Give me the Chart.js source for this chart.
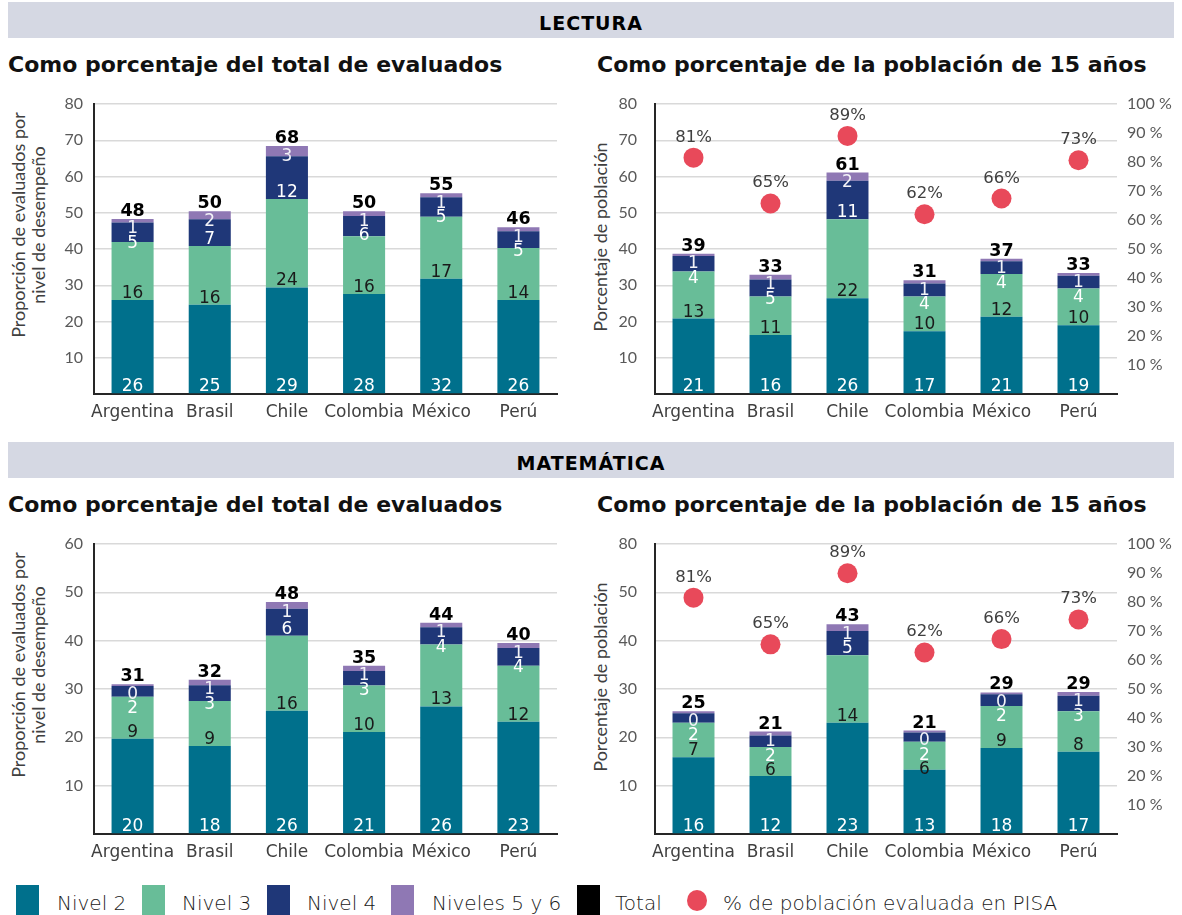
<!DOCTYPE html>
<html>
<head>
<meta charset="utf-8">
<script src="https://cdn.jsdelivr.net/npm/chart.js@4/dist/chart.umd.min.js"></script>
<style>
  body { margin: 0; width: 1182px; height: 915px; background: #fff; position: relative; overflow: hidden; font-family: "DejaVu Sans", sans-serif; }
  .band { position: absolute; left: 8px; width: 1166px; height: 36px; background: #d5d8e3; }
  .head { position: absolute; left: 8px; width: 1166px; text-align: center; font: bold 19px/1 "DejaVu Sans"; letter-spacing: 1px; color: #000; }
  .ttl { position: absolute; font: bold 22px/1 "DejaVu Sans"; color: #111; white-space: nowrap; }
  canvas { position: absolute; }
  .ytitle { position: absolute; font: 18px/20px Lato, sans-serif; color: #404040; text-align: center; white-space: nowrap; transform: rotate(-90deg); }
  .sw { position: absolute; top: 885px; width: 23px; height: 30px; }
  .lt { position: absolute; top: 893px; font: 300 20px/1 "DejaVu Sans"; color: #1a1a1a; white-space: nowrap; }
  .dot { position: absolute; left: 687px; top: 890px; width: 20px; height: 21px; border-radius: 50%; background: #e8495a; }
</style>
</head>
<body>
<div class="band" style="top:2px"></div>
<div class="head" style="top:14px">LECTURA</div>
<div class="ttl" style="left:8px;top:54px">Como porcentaje del total de evaluados</div>
<div class="ttl" style="left:597px;top:54px">Como porcentaje de la población de 15 años</div>
<div class="ytitle" style="left:-102px;top:205px;width:260px;height:40px">Proporción de evaluados por<br>nivel de desempeño</div>
<div class="ytitle" style="left:470px;top:227px;width:260px;height:20px">Porcentaje de población</div>
<canvas id="lecTot" width="590" height="345" style="left:0;top:90px"></canvas>
<canvas id="lecPop" width="592" height="345" style="left:590px;top:90px"></canvas>

<div class="band" style="top:442px"></div>
<div class="head" style="top:454px">MATEMÁTICA</div>
<div class="ttl" style="left:8px;top:494px">Como porcentaje del total de evaluados</div>
<div class="ttl" style="left:597px;top:494px">Como porcentaje de la población de 15 años</div>
<div class="ytitle" style="left:-102px;top:645px;width:260px;height:40px">Proporción de evaluados por<br>nivel de desempeño</div>
<div class="ytitle" style="left:470px;top:667px;width:260px;height:20px">Porcentaje de población</div>
<canvas id="matTot" width="590" height="345" style="left:0;top:530px"></canvas>
<canvas id="matPop" width="592" height="345" style="left:590px;top:530px"></canvas>

<div class="sw" style="left:16px;background:#00708c"></div><div class="lt" style="left:57px">Nivel 2</div>
<div class="sw" style="left:142px;background:#68bd98"></div><div class="lt" style="left:182px">Nivel 3</div>
<div class="sw" style="left:267px;background:#1f3778"></div><div class="lt" style="left:307px">Nivel 4</div>
<div class="sw" style="left:391px;background:#8f78b4"></div><div class="lt" style="left:432px">Niveles 5 y 6</div>
<div class="sw" style="left:577px;background:#000"></div><div class="lt" style="left:615px">Total</div>
<div class="dot"></div><div class="lt" style="left:723px">% de población evaluada en PISA</div>

<script>
const countries = ['Argentina', 'Brasil', 'Chile', 'Colombia', 'México', 'Perú'];

// Lectura, % del total de evaluados
const lecTotN2 = [25.9, 24.6, 29.4, 27.6, 31.8, 25.9];
const lecTotN3 = [16.0, 16.2, 24.4, 15.9, 17.1, 14.4];
const lecTotN4 = [5.4, 7.4, 11.8, 5.6, 5.4, 4.6];
const lecTotN5 = [1.0, 2.2, 2.8, 1.3, 1.1, 1.1];
const lecTotTotal = [48, 50, 68, 50, 55, 46];

// Lectura, % de la población de 15 años
const lecPopN2 = [20.8, 16.3, 26.4, 17.3, 21.3, 19.0];
const lecPopN3 = [13.0, 10.6, 21.8, 9.6, 11.8, 10.1];
const lecPopN4 = [4.3, 4.7, 10.6, 3.6, 3.5, 3.5];
const lecPopN5 = [0.6, 1.3, 2.3, 0.9, 0.7, 0.8];
const lecPopTotal = [39, 33, 61, 31, 37, 33];
const lecPisa = [81.5, 65.7, 89.0, 62.0, 67.4, 80.6];
const lecPisaLabels = [81, 65, 89, 62, 66, 73];

// Matemática, % del total de evaluados
const matTotN2 = [19.7, 18.2, 25.5, 21.1, 26.4, 23.2];
const matTotN3 = [8.7, 9.3, 15.5, 9.6, 12.8, 11.6];
const matTotN4 = [2.2, 3.3, 5.6, 3.0, 3.6, 3.7];
const matTotN5 = [0.4, 1.1, 1.4, 1.1, 0.9, 1.0];
const matTotTotal = [31, 32, 48, 35, 44, 40];

// Matemática, % de la población de 15 años
const matPopN2 = [15.9, 12.0, 23.0, 13.3, 17.8, 17.0];
const matPopN3 = [7.1, 6.0, 14.0, 5.8, 8.7, 8.4];
const matPopN4 = [2.0, 2.4, 5.0, 1.9, 2.4, 3.2];
const matPopN5 = [0.4, 0.8, 1.4, 0.4, 0.4, 0.8];
const matPopTotal = [25, 21, 43, 21, 29, 29];
const matPisa = [81.5, 65.4, 89.9, 62.6, 67.2, 74.0];
const matPisaLabels = [81, 65, 89, 62, 66, 73];

// tick labels (the last chart's top tick reads 80 in the original)
const ticks80 = ['', '10', '20', '30', '40', '50', '60', '70', '80'];
const ticks60 = ['', '10', '20', '30', '40', '50', '60'];
const ticksMatPop = ['', '10', '20', '30', '40', '50', '80'];

const colors = ['#00708c', '#68bd98', '#1f3778', '#8f78b4'];
const labelColors = ['#ffffff', '#1a1a1a', '#ffffff', '#f2f2f7'];
const names = ['Nivel 2', 'Nivel 3', 'Nivel 4', 'Niveles 5 y 6'];

// no extra room for overhanging tick labels, so the plot area sits where we put it
function noPad(s) { s.paddingTop = 0; s.paddingBottom = 0; s.paddingLeft = 0; s.paddingRight = 0; }

function makeChart(id, levels, totals, yMax, yTicks, opt) {
  const ctx = document.getElementById(id).getContext('2d');
  const datasets = levels.map((d, k) => ({
    label: names[k], data: d, backgroundColor: colors[k], borderWidth: 0,
    barPercentage: 0.545, categoryPercentage: 1, stack: 's', order: 2
  }));
  if (opt.pisa) {
    datasets.push({
      type: 'line', label: '% de población evaluada en PISA', data: opt.pisa,
      yAxisID: 'y2', showLine: false, pointRadius: 10, pointHoverRadius: 10,
      pointBackgroundColor: '#e8495a', pointBorderWidth: 0, order: 1
    });
  }

  const labelPlugin = {
    id: 'labels_' + id,
    afterDatasetsDraw(chart) {
      const c = chart.ctx;
      const H = 12.5, GAP = 2;
      c.save();
      c.textAlign = 'center';
      c.textBaseline = 'alphabetic';
      for (let i = 0; i < countries.length; i++) {
        let prevBottom = -Infinity;
        c.font = '17px "DejaVu Sans"';
        // from the top segment down, push labels below the one above
        for (let d = 3; d >= 0; d--) {
          const el = chart.getDatasetMeta(d).data[i];
          const top = Math.min(el.y, el.base), base = Math.max(el.y, el.base);
          let t = base - 2 - H;
          if (t < top + 2) t = top + 2;
          if (t < prevBottom + GAP) t = prevBottom + GAP;
          const b = t + H;
          c.fillStyle = labelColors[d];
          c.fillText(String(Math.round(levels[d][i])), el.x, b);
          prevBottom = b;
        }
        const topEl = chart.getDatasetMeta(3).data[i];
        c.font = 'bold 17.5px "DejaVu Sans"';
        c.fillStyle = '#000';
        c.fillText(String(totals[i]), topEl.x, topEl.y - 3);
      }
      if (opt.pisa) {
        const meta = chart.getDatasetMeta(4);
        c.font = '16.5px "DejaVu Sans"';
        c.fillStyle = '#404040';
        meta.data.forEach((pt, i) => {
          c.fillText(opt.pisaLabels[i] + '%', pt.x, pt.y - 16);
        });
      }
      c.restore();
    }
  };

  const scales = {
    x: {
      stacked: true,
      grid: { display: false, drawTicks: false },
      border: { display: true, color: '#262626', width: 2 },
      ticks: { font: { family: 'DejaVu Sans', size: 17 }, color: '#404040', padding: 8, autoSkip: false, maxRotation: 0 },
      afterFit: s => { noPad(s); s.height = 41; }
    },
    y: {
      stacked: true, min: 0, max: yMax,
      grid: { color: '#d9d9d9', lineWidth: 1.5, drawTicks: false },
      border: { display: true, color: '#262626', width: 2 },
      ticks: { stepSize: 10, padding: opt.tickPad, font: { family: 'Lato', size: 16 }, color: '#595959',
               callback: (v, i) => yTicks[i] },
      afterFit: s => { noPad(s); s.width = opt.leftW; }
    }
  };
  if (opt.pisa) {
    scales.y2 = {
      position: 'right', min: 0, max: 100,
      grid: { display: false, drawTicks: false },
      border: { display: false },
      ticks: { stepSize: 10, padding: 10, font: { family: 'Lato', size: 16 }, color: '#595959',
               callback: v => v === 0 ? '' : v + ' %' },
      afterFit: s => { noPad(s); s.width = 65; }
    };
  }

  return new Chart(ctx, {
    type: 'bar',
    data: { labels: countries, datasets: datasets },
    options: {
      responsive: false,
      animation: false,
      devicePixelRatio: 1,
      layout: { padding: { top: 14, right: opt.pisa ? 0 : 33, left: 0, bottom: 0 } },
      plugins: { legend: { display: false }, tooltip: { enabled: false } },
      scales: scales
    },
    plugins: [labelPlugin]
  });
}

makeChart('lecTot', [lecTotN2, lecTotN3, lecTotN4, lecTotN5], lecTotTotal, 80, ticks80,
  { leftW: 94, tickPad: 11 });
makeChart('lecPop', [lecPopN2, lecPopN3, lecPopN4, lecPopN5], lecPopTotal, 80, ticks80,
  { leftW: 65, tickPad: 18, pisa: lecPisa, pisaLabels: lecPisaLabels });
makeChart('matTot', [matTotN2, matTotN3, matTotN4, matTotN5], matTotTotal, 60, ticks60,
  { leftW: 94, tickPad: 11 });
makeChart('matPop', [matPopN2, matPopN3, matPopN4, matPopN5], matPopTotal, 60, ticksMatPop,
  { leftW: 65, tickPad: 18, pisa: matPisa, pisaLabels: matPisaLabels });
</script>
</body>
</html>
